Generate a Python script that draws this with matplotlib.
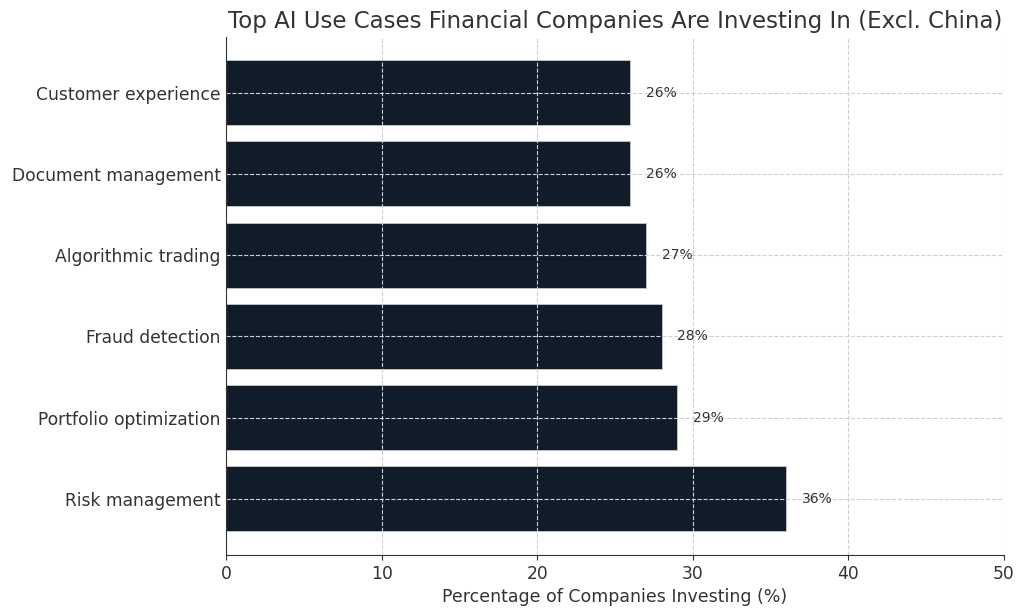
import matplotlib
matplotlib.use("Agg")
from matplotlib import pyplot as plt

use_cases = ["Risk management", "Portfolio optimization", "Fraud detection",
             "Algorithmic trading", "Document management", "Customer experience"]
percentages = [36, 29, 28, 27, 26, 26]

fig, ax = plt.subplots(figsize=(10.24, 6.11), dpi=100)

bars = ax.barh(use_cases, percentages, color="#111c2b", edgecolor="#c8c8c8", linewidth=0.6)

for bar, val in zip(bars, percentages):
    ax.text(val + 1, bar.get_y() + bar.get_height() / 2, f"{val}%",
            va="center", ha="left", fontsize=10, color="#333333")

ax.set_xlim(0, 50)
ax.set_xlabel("Percentage of Companies Investing (%)", fontsize=12.5, color="#333333")
ax.set_title("Top AI Use Cases Financial Companies Are Investing In (Excl. China)",
             fontsize=16.5, color="#333333")
ax.tick_params(axis="both", labelsize=12.3, colors="#333333")
ax.tick_params(axis="y", length=0, pad=4)
ax.grid(True, linestyle="--", color="#d0d0d0", linewidth=0.8)
ax.set_axisbelow(False)
ax.spines["top"].set_visible(False)
ax.spines["right"].set_visible(False)
for side in ["left", "bottom"]:
    ax.spines[side].set_color("#333333")
    ax.spines[side].set_zorder(5)

fig.subplots_adjust(left=0.221, right=0.98, top=0.94, bottom=0.092)
fig.savefig("out.png")
